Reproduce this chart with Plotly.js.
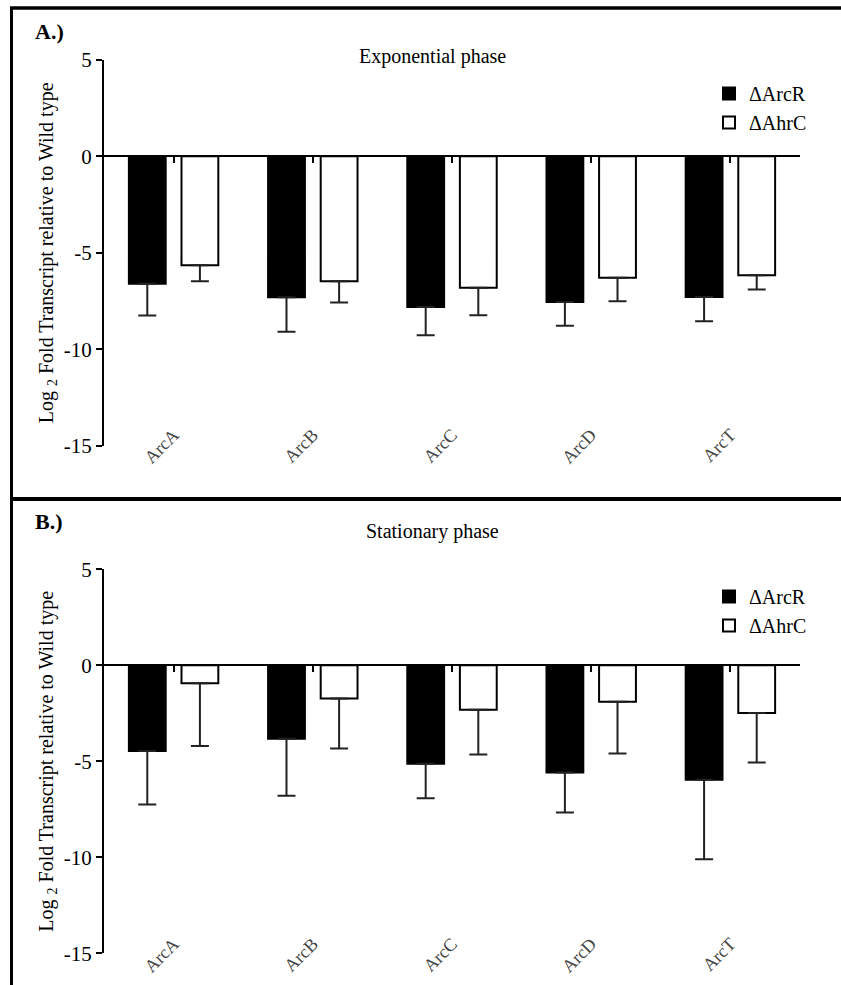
<!DOCTYPE html>
<html>
<head>
<meta charset="utf-8">
<script src="https://cdn.plot.ly/plotly-3.0.1.min.js"></script>
<style>
  html, body { margin: 0; padding: 0; background: #fff; }
  #chart { width: 841px; height: 985px; }
</style>
</head>
<body>
<div id="chart"></div>
<script>
// ---- data ----
const genes = ["ArcA", "ArcB", "ArcC", "ArcD", "ArcT"];
const seriesNames = ["\u0394ArcR", "\u0394AhrC"];

// Panel A: exponential phase (mean log2 fold change, lower error)
const expArcR = [-6.60, -7.30, -7.80, -7.55, -7.28];
const expArcRErr = [1.64, 1.79, 1.46, 1.23, 1.26];
const expAhrC = [-5.64, -6.47, -6.81, -6.29, -6.16];
const expAhrCErr = [0.83, 1.10, 1.42, 1.21, 0.74];

// Panel B: stationary phase
const statArcR = [-4.47, -3.83, -5.13, -5.58, -5.96];
const statArcRErr = [2.78, 2.97, 1.80, 2.09, 4.14];
const statAhrC = [-0.93, -1.73, -2.31, -1.90, -2.49];
const statAhrCErr = [3.27, 2.60, 2.34, 2.70, 2.57];

const yTicks = [5, 0, -5, -10, -15];

// ---- layout helpers (pixel -> paper fraction) ----
const W = 841, H = 985;
const fx = p => p / W;
const fy = p => 1 - p / H;
const yMin = -15, yMax = 5;
const xDom = [fx(104), fx(800)];
const domA = [fy(446), fy(59.7)];
const domB = [fy(953.3), fy(569.3)];
const zeroPos = d => d[0] + (0 - yMin) / (yMax - yMin) * (d[1] - d[0]);

const FONT = '"Liberation Serif", "Times New Roman", serif';
const zeros = genes.map(() => 0);

function errBar(errs) {
  return { type: "data", symmetric: false, array: zeros, arrayminus: errs,
           color: "#222", thickness: 2, width: 9 };
}
function barTrace(name, vals, errs, filled, xa, ya, legend) {
  return {
    type: "bar", name: name, x: genes, y: vals,
    xaxis: xa, yaxis: ya, legend: legend,
    marker: { color: filled ? "#000" : "#fff", line: { color: "#000", width: 2 } },
    error_y: errBar(errs),
    hoverinfo: "x+y+name"
  };
}

const data = [
  barTrace(seriesNames[0], expArcR, expArcRErr, true, "x", "y", "legend"),
  barTrace(seriesNames[1], expAhrC, expAhrCErr, false, "x", "y", "legend"),
  barTrace(seriesNames[0], statArcR, statArcRErr, true, "x2", "y2", "legend2"),
  barTrace(seriesNames[1], statAhrC, statAhrCErr, false, "x2", "y2", "legend2")
];

function xAxis(dom) {
  return {
    domain: xDom, anchor: "free", position: zeroPos(dom),
    type: "category", categoryorder: "array", categoryarray: genes,
    range: [-0.5, genes.length - 0.5],
    showline: true, linecolor: "#000", linewidth: 2,
    ticks: "outside", ticklen: 6, tickwidth: 2, tickcolor: "#000",
    tickangle: -45, ticklabelstandoff: 254,
    tickfont: { family: FONT, size: 18, color: "#444" },
    showgrid: false, zeroline: false, fixedrange: true
  };
}
function yAxis(dom, xa) {
  return {
    domain: dom, anchor: xa, range: [yMin, yMax],
    tickvals: yTicks, ticktext: yTicks.map(String),
    showline: true, linecolor: "#000", linewidth: 2,
    ticks: "outside", ticklen: 6, tickwidth: 2, tickcolor: "#000",
    tickfont: { family: FONT, size: 21, color: "#000" },
    showgrid: false, zeroline: false, fixedrange: true,
    title: { text: "Log <sub>2</sub> Fold Transcript relative to Wild type",
             font: { family: FONT, size: 20, color: "#000" } }
  };
}

function border(x0, y0, x1, y1, w) {
  return { type: "line", xref: "paper", yref: "paper",
           x0: fx(x0), y0: fy(y0), x1: fx(x1), y1: fy(y1),
           line: { color: "#000", width: w } };
}

const layout = {
  width: W, height: H,
  margin: { l: 0, r: 0, t: 0, b: 0 },
  paper_bgcolor: "#fff", plot_bgcolor: "rgba(0,0,0,0)",
  font: { family: FONT, size: 20, color: "#000" },
  barmode: "group", bargap: 0.244, bargroupgap: 0.3,
  xaxis: xAxis(domA),
  yaxis: yAxis(domA, "x"),
  xaxis2: xAxis(domB),
  yaxis2: yAxis(domB, "x2"),
  legend: { x: fx(709), y: fy(74), xanchor: "left", yanchor: "top",
            bgcolor: "rgba(0,0,0,0)", font: { family: FONT, size: 20 }, tracegroupgap: 0 },
  legend2: { x: fx(709), y: fy(577), xanchor: "left", yanchor: "top",
             bgcolor: "rgba(0,0,0,0)", font: { family: FONT, size: 20 }, tracegroupgap: 0 },
  shapes: [
    border(11.5, 7, 11.5, 985, 3),
    border(10, 8, 841, 8, 3.5),
    border(10, 499, 841, 499, 4)
  ],
  annotations: [
    { text: "<b>A.)</b>", xref: "paper", yref: "paper", x: fx(33), y: fy(31),
      xanchor: "left", yanchor: "middle", showarrow: false,
      font: { family: FONT, size: 22, color: "#000" } },
    { text: "<b>B.)</b>", xref: "paper", yref: "paper", x: fx(33), y: fy(521),
      xanchor: "left", yanchor: "middle", showarrow: false,
      font: { family: FONT, size: 22, color: "#000" } },
    { text: "Exponential phase", xref: "paper", yref: "paper", x: fx(433), y: fy(57),
      xanchor: "center", yanchor: "middle", showarrow: false,
      font: { family: FONT, size: 20, color: "#000" } },
    { text: "Stationary phase", xref: "paper", yref: "paper", x: fx(433), y: fy(531),
      xanchor: "center", yanchor: "middle", showarrow: false,
      font: { family: FONT, size: 20, color: "#000" } }
  ]
};

Plotly.newPlot("chart", data, layout, { displayModeBar: false, staticPlot: true });
</script>
</body>
</html>
